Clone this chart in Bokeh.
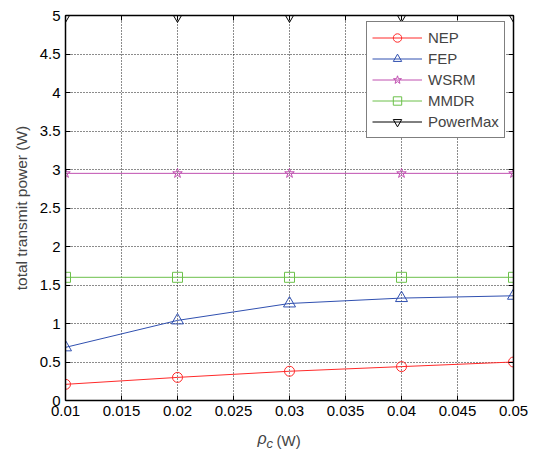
from bokeh.plotting import figure
from bokeh.layouts import column
from bokeh.models import Range1d, LinearAxis, FixedTicker, Label
from bokeh.embed import file_html
from bokeh.resources import INLINE

rho_c = [0.01, 0.02, 0.03, 0.04, 0.05]
nep = [0.21, 0.30, 0.38, 0.44, 0.50]
fep = [0.69, 1.04, 1.26, 1.33, 1.36]
wsrm = [2.95, 2.95, 2.95, 2.95, 2.95]
mmdr = [1.60, 1.60, 1.60, 1.60, 1.60]
powermax = [5.0, 5.0, 5.0, 5.0, 5.0]

x_ticks = [0.01, 0.015, 0.02, 0.025, 0.03, 0.035, 0.04, 0.045, 0.05]
x_tick_labels = ["0.01", "0.015", "0.02", "0.025", "0.03", "0.035", "0.04", "0.045", "0.05"]
y_ticks = [0, 0.5, 1, 1.5, 2, 2.5, 3, 3.5, 4, 4.5, 5]
y_tick_labels = ["0", "0.5", "1", "1.5", "2", "2.5", "3", "3.5", "4", "4.5", "5"]

FONT = "Liberation Sans"

p = figure(frame_width=448, frame_height=385, output_backend="svg", toolbar_location=None,
           title=None,
           x_range=Range1d(0.01, 0.05), y_range=Range1d(0, 5),
           min_border_left=65, min_border_right=22, min_border_top=15, min_border_bottom=30,
           background_fill_color="white", border_fill_color="white")
p.outline_line_color = "black"
p.outline_line_width = 1

def style_axis(ax, ticks, labels, show_labels=True):
    ax.ticker = FixedTicker(ticks=ticks)
    if show_labels:
        ax.major_label_overrides = {t: l for t, l in zip(ticks, labels)}
    else:
        ax.major_label_overrides = {t: "" for t in ticks}
    ax.major_tick_in = 5
    ax.major_tick_out = 0
    ax.minor_tick_in = 0
    ax.minor_tick_out = 0
    ax.axis_line_color = "black"
    ax.axis_line_width = 1.5
    ax.major_tick_line_color = "black"
    ax.major_label_text_font = FONT
    ax.major_label_text_font_size = "15px"
    ax.major_label_text_color = "black"
    ax.major_label_standoff = 5
    ax.axis_label_standoff = 0

style_axis(p.xaxis[0], x_ticks, x_tick_labels)
style_axis(p.yaxis[0], y_ticks, y_tick_labels)
p.xaxis[0].major_label_standoff = 5

top = LinearAxis()
style_axis(top, x_ticks, x_tick_labels, show_labels=False)
top.major_label_standoff = 0
right = LinearAxis()
style_axis(right, y_ticks, y_tick_labels, show_labels=False)
right.major_label_standoff = 0
p.add_layout(top, "above")
p.add_layout(right, "right")

p.yaxis[0].axis_label = "total transmit power (W)"
p.yaxis[0].axis_label_text_font = FONT
p.yaxis[0].axis_label_text_font_size = "15.5px"
p.yaxis[0].axis_label_text_font_style = "normal"
p.yaxis[0].axis_label_standoff = 7

for g in (p.xgrid[0], p.ygrid[0]):
    g.grid_line_color = "black"
    g.grid_line_dash = "1 2"
    g.grid_line_width = 1
    g.grid_line_alpha = 0.9
p.xgrid[0].ticker = FixedTicker(ticks=x_ticks)
p.ygrid[0].ticker = FixedTicker(ticks=y_ticks)

series = [
    ("NEP", nep, "#FF2A2A", "circle", 10),
    ("FEP", fep, "#3050B0", "triangle", 12),
    ("WSRM", wsrm, "#C050B0", "star", 10),
    ("MMDR", mmdr, "#6CC04A", "square", 10),
    ("PowerMax", powermax, "black", "inverted_triangle", 12),
]
for name, ys, col, mk, sz in series:
    p.line(rho_c, ys, line_color=col, line_width=1, legend_label=name)
    p.scatter(rho_c, ys, marker=mk, size=sz, fill_color=None, line_color=col,
              line_width=1, legend_label=name)

leg = p.legend[0]
leg.location = (301, 262)
leg.border_line_color = "black"
leg.border_line_width = 1
leg.background_fill_color = "white"
leg.background_fill_alpha = 1
leg.padding = 5
leg.margin = 0
leg.spacing = 0
leg.glyph_width = 50
leg.glyph_height = 21
leg.label_height = 21
leg.label_standoff = 6
leg.label_text_font = FONT
leg.label_text_font_size = "15px"

# x-axis title strip under the chart; its frame is aligned with the chart frame
p2 = figure(width=535, height=21, output_backend="svg", toolbar_location=None,
            title=None,
            x_range=Range1d(65, 513), y_range=Range1d(0, 21),
            x_axis_location=None, y_axis_location=None,
            min_border=0, background_fill_color="white", border_fill_color="white")
p2.outline_line_color = None
p2.grid.visible = False
p2.add_layout(Label(x=257, y=13, text="ρ", text_font=FONT, text_font_size="16px",
                    text_font_style="italic", text_baseline="alphabetic"))
p2.add_layout(Label(x=266, y=8.5, text="c", text_font=FONT, text_font_size="13px",
                    text_font_style="italic", text_baseline="alphabetic"))
p2.add_layout(Label(x=276, y=11, text="(W)", text_font=FONT, text_font_size="15px",
                    text_baseline="alphabetic"))

layout = column(p, p2, spacing=0)
open("out.html", "w").write(file_html(layout, INLINE))
